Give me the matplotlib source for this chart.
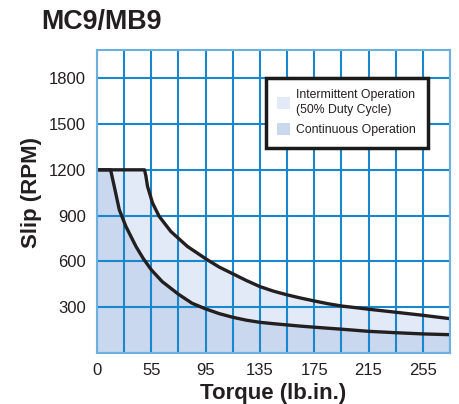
import matplotlib
matplotlib.use("Agg")
import matplotlib.pyplot as plt
from matplotlib.patches import Patch
import numpy as np

# torque (lb.in.) and slip (RPM)
upper_torque = [15, 50, 51, 52.2, 55.9, 60.8, 69.4, 81.6, 96, 105, 115, 125, 135,
                145, 155, 165, 175, 185, 195, 215, 235, 255, 275]
upper_slip = [1200, 1200, 1160, 1092, 983, 895, 796, 698, 612, 563, 519,
              475, 435, 405, 381, 360, 341, 323, 308, 287, 267, 247, 225]

lower_torque = [15, 25, 26, 27.7, 31.4, 36.3, 43.7, 49, 55, 63, 75, 85, 95,
                105, 115, 125, 135, 145, 155, 165, 175, 195, 215, 235, 255, 275]
lower_slip = [1200, 1200, 1160, 1092, 939, 829, 698, 620, 545, 468, 385,
              326, 289, 258, 234, 215, 201, 192, 184, 176, 169, 156, 142, 133, 125, 120]

x_grid = list(range(15, 276, 20))
x_ticks = [15, 55, 95, 135, 175, 215, 255]
x_labels = ["0", "55", "95", "135", "175", "215", "255"]
y_grid = [0, 300, 600, 900, 1200, 1500, 1800]
y_ticks = [300, 600, 900, 1200, 1500, 1800]

text_col = "#231f20"
grid_col = "#1a87cc"
cont_col = "#c9d8ee"
inter_col = "#e3eaf7"

plt.rcParams["font.family"] = ["Liberation Sans", "DejaVu Sans"]

fig = plt.figure(figsize=(4.59, 4.04), dpi=100)
ax = fig.add_axes([97 / 459, 51 / 404, 353 / 459, 303 / 404])

ax.fill_between(lower_torque, lower_slip, 0, color=cont_col, lw=0, zorder=1)
ax.fill(np.concatenate([upper_torque, lower_torque[::-1]]),
        np.concatenate([upper_slip, lower_slip[::-1]]),
        color=inter_col, lw=0, zorder=1)

for gx in x_grid:
    ax.axvline(gx, color=grid_col, lw=1.5, zorder=2)
for gy in y_grid:
    ax.axhline(gy, color=grid_col, lw=1.5, zorder=2)

ax.plot(upper_torque, upper_slip, color=text_col, lw=2.4, zorder=3,
        solid_joinstyle="round", solid_capstyle="butt")
ax.plot(lower_torque, lower_slip, color=text_col, lw=2.4, zorder=3,
        solid_joinstyle="round", solid_capstyle="butt")

ax.set_xlim(15, 275)
ax.set_ylim(0, 1985)
ax.set_xticks(x_ticks)
ax.set_xticklabels(x_labels)
ax.set_yticks(y_ticks)
ax.tick_params(length=0, labelsize=12, labelcolor=text_col)
ax.tick_params(axis="x", pad=7)
ax.tick_params(axis="y", pad=8)
for s in ax.spines.values():
    s.set_color("#6db0df")
    s.set_linewidth(1.5)
    s.set_zorder(4)

# reference cuts the bottom of this label slightly; keep it just inside
ax.set_xlabel("Torque (lb.in.)", fontsize=16, fontweight="bold", color=text_col, labelpad=4)
ax.set_ylabel("Slip (RPM)", fontsize=16, fontweight="bold", color=text_col)
ax.yaxis.set_label_coords(-0.156, 0.53)

fig.text(41 / 459, 1 - 22 / 404, "MC9/MB9", fontsize=19.4, fontweight="bold",
         color=text_col, va="center", ha="left")

handles = [Patch(facecolor=inter_col, edgecolor="none"),
           Patch(facecolor=cont_col, edgecolor="none")]
leg = ax.legend(handles, ["Intermittent Operation\n(50% Duty Cycle)", "Continuous Operation"],
                loc="upper left", bbox_to_anchor=(0.478, 0.909), fontsize=8.8,
                frameon=True, fancybox=False, framealpha=1, edgecolor="#1a1a1a",
                handlelength=1.05, handleheight=1.05, handletextpad=0.5,
                borderpad=0.95, labelspacing=0.6, borderaxespad=0)
leg.get_frame().set_linewidth(2.5)
leg.set_zorder(5)
for t in leg.get_texts():
    t.set_color(text_col)
    t.set_linespacing(1.3)

fig.savefig("out.png", dpi=100)
